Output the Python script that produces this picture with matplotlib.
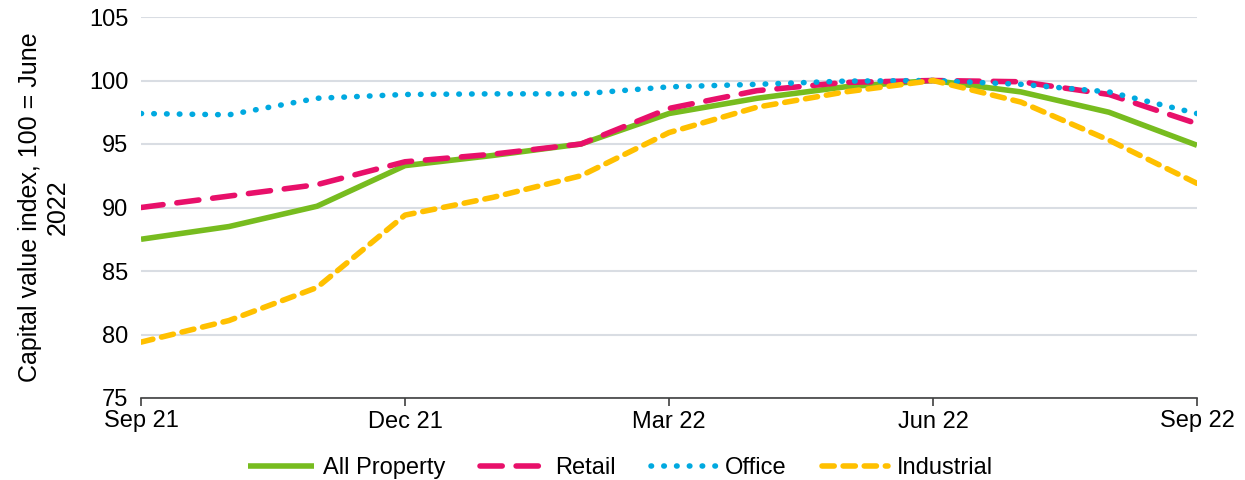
import matplotlib.pyplot as plt

plt.rcParams['font.family'] = ['Liberation Sans', 'DejaVu Sans']

meses = ['Sep 21', 'Oct 21', 'Nov 21', 'Dec 21', 'Jan 22', 'Feb 22', 'Mar 22',
         'Apr 22', 'May 22', 'Jun 22', 'Jul 22', 'Aug 22', 'Sep 22']
all_property = [87.5, 88.5, 90.1, 93.3, 94.1, 95.0, 97.4, 98.6, 99.5, 100.0, 99.1, 97.5, 94.9]
retail = [90.0, 90.9, 91.8, 93.6, 94.2, 95.0, 97.8, 99.2, 99.85, 100.0, 99.9, 98.9, 96.6]
office = [97.4, 97.3, 98.6, 98.9, 98.95, 98.95, 99.5, 99.7, 99.95, 100.0, 99.7, 99.1, 97.4]
industrial = [79.4, 81.1, 83.7, 89.4, 90.8, 92.5, 95.9, 97.9, 99.1, 100.0, 98.3, 95.3, 91.9]

rotulos = ['Sep 21', 'Dec 21', 'Mar 22', 'Jun 22', 'Sep 22']
x = list(range(len(meses)))

fig = plt.figure(figsize=(12.45, 4.8), dpi=100)
ax = fig.add_axes([141/1245, 82/480, (1197-141)/1245, (398-17)/480])

ax.plot(x, all_property, color='#77BC1F', lw=4, label='All Property', solid_capstyle='butt')
ax.plot(x, retail, color='#E8106A', lw=4, dashes=(4, 2.5), label='Retail', dash_capstyle='round')
ax.plot(x, office, color='#00A9E0', lw=4, dashes=(0.1, 2.2), label='Office', dash_capstyle='round')
ax.plot(x, industrial, color='#FFC000', lw=4, dashes=(2.2, 1.6), label='Industrial', dash_capstyle='round')

ax.set_xlim(0, 12)
ax.set_ylim(75, 105)
ax.set_yticks(range(75, 106, 5))
ax.set_xticks([0, 3, 6, 9, 12])
ax.set_xticklabels(rotulos)
ax.tick_params(axis='y', length=0, labelsize=17, pad=9)
ax.tick_params(axis='x', length=6, width=1.2, color='#404040', labelsize=17, pad=3)
ax.grid(axis='y', color='#D9DDE3', lw=1.5)
ax.set_axisbelow(True)
for s in ['top', 'right', 'left']:
    ax.spines[s].set_visible(False)
ax.spines['bottom'].set_color('#404040')
ax.spines['bottom'].set_linewidth(1.2)

ax.set_ylabel('Capital value index, 100 = June\n2022', fontsize=18, labelpad=14,
              multialignment='center')

ax.legend(loc='center', bbox_to_anchor=(0.454, -0.184), ncol=4, frameon=False,
          fontsize=17, handlelength=2.8, columnspacing=1.5, handletextpad=0.35)

plt.savefig('out.png')
